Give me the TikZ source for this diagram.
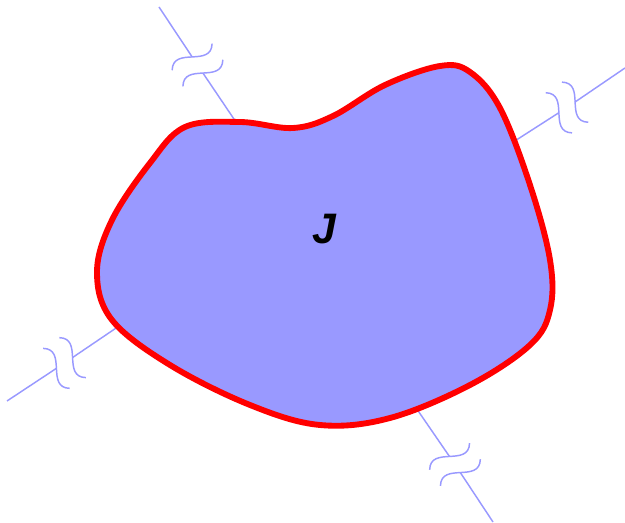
\documentclass[tikz,border=0pt]{standalone}
\usepackage{fontspec}
\setmainfont{Liberation Sans}
\usetikzlibrary{calc}
\definecolor{lavender}{HTML}{9999FF}

\begin{document}
\begin{tikzpicture}[
        x=0.75pt, y=-0.75pt,
        wire/.style={draw=lavender, line width=1.1pt},
        region/.style={draw=red, line width=4.4pt, fill=lavender, line join=round},
        brk/.pic={
            \draw[wire] (-24,-9.7) .. controls (-10,-29.7) and (10,10.3) .. (24,-9.7);
            \draw[wire] (-24,9.7) .. controls (-10,-10.3) and (10,29.7) .. (24,9.7);
        }
    ]
    \useasboundingbox (0,0) rectangle (625,523);

    %% ---- the four cut wires ----
    \coordinate (o1) at (159,7);   \coordinate (g1) at (197.5,65);  \coordinate (i1) at (240,128);
    \coordinate (o2) at (625,68);  \coordinate (g2) at (567,107.5); \coordinate (i2) at (507,146);
    \coordinate (o3) at (7,401);   \coordinate (g3) at (64.5,363);  \coordinate (i3) at (125,322);
    \coordinate (o4) at (493,522); \coordinate (g4) at (455,464.5); \coordinate (i4) at (412,402);

    \foreach \k/\ang in {1/33.7, 2/-56.8, 3/123.6, 4/-146.2} {
        \draw[wire] (o\k) -- ($(g\k)!7.3pt!(o\k)$);
        \draw[wire] ($(g\k)!7.3pt!(i\k)$) -- (i\k);
        \pic[rotate=\ang] at (g\k) {brk};
    }

    %% ---- the region ----
    \draw[region] plot[smooth cycle, tension=0.6] coordinates {
        (97,272) (112,220) (150,163) (185,127) (240,122) (293,128) (333,116)
        (385,85) (440,66) (470,72) (500,108) (530,185) (550,260) (550,310)
        (530,345) (470,385) (390,418) (320,425) (250,405) (170,365) (112,320)};

    \node[font=\fontsize{32}{32}\selectfont\bfseries\itshape] (lbl) at (324,229) {J};
\end{tikzpicture}
\end{document}
